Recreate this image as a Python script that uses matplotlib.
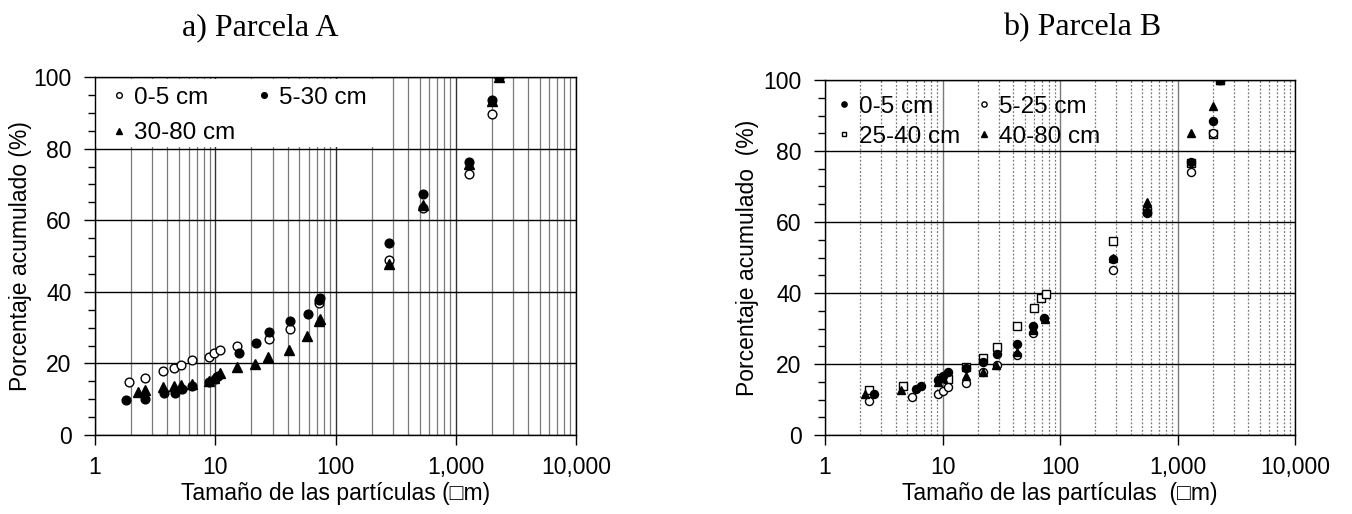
import numpy as np
import matplotlib
matplotlib.use("Agg")
import matplotlib.pyplot as plt
from matplotlib.ticker import FuncFormatter, LogLocator, MultipleLocator
from matplotlib.patches import Rectangle

plt.rcParams['font.family'] = ['Liberation Sans', 'DejaVu Sans']

# Parcela A
a_x_05 = [1.9, 2.6, 3.7, 4.5, 5.2, 6.4, 8.9, 9.8, 11, 15.3, 28, 41.5, 72.5, 280, 532, 1285, 2000, 2290]
a_y_05 = [14.7, 15.8, 17.8, 18.8, 19.6, 20.9, 21.8, 22.8, 23.8, 24.8, 26.7, 29.7, 36.8, 48.8, 63.3, 72.8, 89.7, 100]
a_x_530 = [1.8, 2.6, 3.75, 4.6, 5.25, 6.45, 8.9, 10, 10.6, 15.7, 21.7, 28.2, 42, 58.5, 73, 75, 280, 532, 1285, 2000, 2290]
a_y_530 = [9.8, 10.1, 11.6, 11.6, 12.8, 13.8, 14.7, 15.6, 16.5, 22.8, 25.7, 28.8, 31.8, 33.8, 37.6, 38.3, 53.7, 67.3, 76.2, 93.6, 100]
a_x_3080 = [2.3, 2.6, 3.7, 4.5, 5.2, 6.4, 8.9, 9.8, 11, 15.3, 21.6, 27.7, 41, 58, 72.5, 75, 280, 532, 1285, 2000, 2290]
a_y_3080 = [12.1, 12.6, 13.5, 13.7, 14.0, 14.2, 15.0, 15.9, 17.2, 18.9, 19.7, 21.9, 23.7, 27.7, 31.9, 32.5, 47.8, 64.2, 75.8, 93.4, 100]

# Parcela B
b_x_05 = [2.6, 5.95, 6.5, 9.2, 10, 11.2, 15.9, 22.2, 28.9, 42.8, 59.3, 73.5, 281, 547, 1300, 2020, 2300]
b_y_05 = [11.5, 12.9, 13.7, 15.5, 16.5, 17.7, 18.8, 20.7, 22.7, 25.6, 30.7, 32.9, 49.5, 62.9, 76.8, 88.5, 100]
b_x_525 = [2.35, 5.5, 9.2, 10, 11.2, 15.9, 22.2, 28.9, 42.8, 59.3, 281, 547, 1300, 2020, 2300]
b_y_525 = [9.7, 10.7, 11.5, 12.5, 13.6, 14.6, 17.7, 19.7, 22.5, 28.6, 46.5, 62.5, 74.2, 85, 100]
b_x_2540 = [2.35, 4.6, 9.7, 11.2, 15.9, 22.2, 28.9, 42.8, 60.4, 68.5, 75.6, 281, 547, 1300, 2020, 2300]
b_y_2540 = [12.7, 13.8, 16.0, 15.8, 19.1, 21.8, 24.7, 30.7, 35.7, 38.7, 39.6, 54.7, 63, 76.5, 84.8, 100]
b_x_4080 = [2.2, 4.4, 9.2, 10, 15.9, 22, 28.5, 42.8, 59.3, 74, 281, 547, 1300, 2020, 2300]
b_y_4080 = [11.5, 12.7, 15.0, 16.0, 16.5, 17.7, 19.7, 23.5, 29.7, 32.8, 49.8, 65.7, 85.2, 92.7, 100]

fs = 16.5

fig = plt.figure(figsize=(13.52, 5.14), dpi=100)
ax1 = fig.add_axes([95/1352, 79/514, 481/1352, 358/514])
ax2 = fig.add_axes([825/1352, 79/514, 470/1352, 355/514])


def style_axes(ax, minor_ls, minor_col, major_col):
    ax.set_xscale('log')
    ax.set_xlim(1, 10000)
    ax.set_ylim(0, 100)
    ax.xaxis.set_major_locator(LogLocator(base=10, numticks=10))
    ax.xaxis.set_minor_locator(LogLocator(base=10, subs=np.arange(2, 10), numticks=20))
    ax.xaxis.set_major_formatter(FuncFormatter(lambda v, p: f"{v:,.0f}"))
    ax.yaxis.set_major_locator(MultipleLocator(20))
    ax.yaxis.set_minor_locator(MultipleLocator(5))
    ax.tick_params(axis='x', which='major', length=7, width=1, pad=8, labelsize=fs)
    ax.tick_params(axis='x', which='minor', length=0)
    ax.tick_params(axis='y', which='major', length=8, width=1, pad=9, labelsize=fs)
    ax.tick_params(axis='y', which='minor', length=5, width=1)
    ax.grid(True, which='minor', axis='x', color=minor_col, ls=minor_ls, lw=0.9)
    ax.grid(True, which='major', axis='x', color=major_col, ls='-', lw=1)
    ax.grid(True, which='major', axis='y', color='black', ls='-', lw=1)
    for s in ax.spines.values():
        s.set_color('black')
        s.set_linewidth(1)
        s.set_zorder(4)


style_axes(ax1, '-', '#7a7a7a', '#333333')
style_axes(ax2, (0, (1.5, 1.5)), '#7a7a7a', '#7a7a7a')

ms = 6.3
kw = dict(ls='none', mec='black', mew=1, zorder=3)
ax1.plot(a_x_05, a_y_05, marker='o', mfc='white', ms=ms, label='0-5 cm', **kw)
ax1.plot(a_x_530, a_y_530, marker='o', mfc='black', ms=ms, label='5-30 cm', **kw)
ax1.plot(a_x_3080, a_y_3080, marker='^', mfc='black', ms=ms + 0.5, label='30-80 cm', **kw)

ms2 = 5.8
ax2.plot(b_x_2540, b_y_2540, marker='s', mfc='white', ms=ms2 - 0.5, label='25-40 cm', **kw)
ax2.plot(b_x_525, b_y_525, marker='o', mfc='white', ms=ms2, label='5-25 cm', **kw)
ax2.plot(b_x_05, b_y_05, marker='o', mfc='black', ms=ms2, label='0-5 cm', **kw)
ax2.plot(b_x_4080, b_y_4080, marker='^', mfc='black', ms=ms2, label='40-80 cm', **kw)

# white box behind legend of Parcela A
ax1.add_patch(Rectangle((0, 0.805), 0.613, 0.19, transform=ax1.transAxes,
                        facecolor='white', edgecolor='none', zorder=1.8))

h1, l1 = ax1.get_legend_handles_labels()
order1 = [0, 2, 1]
ax1.legend([h1[i] for i in order1], [l1[i] for i in order1], ncol=2, loc='upper left',
           bbox_to_anchor=(0.035, 0.973), frameon=False, fontsize=17.5, markerscale=0.65,
           handlelength=0.6, handletextpad=0.3, columnspacing=0.9, labelspacing=0.56,
           borderaxespad=0, borderpad=0)

h2, l2 = ax2.get_legend_handles_labels()
lab = dict(zip(l2, h2))
order2 = ['0-5 cm', '25-40 cm', '5-25 cm', '40-80 cm']
ax2.legend([lab[k] for k in order2], order2, ncol=2, loc='upper left',
           bbox_to_anchor=(0.025, 0.955), frameon=False, fontsize=17.5, markerscale=0.65,
           handlelength=0.6, handletextpad=0.3, columnspacing=0.7, labelspacing=0.31,
           borderaxespad=0, borderpad=0)

ax1.set_xlabel('Tamaño de las partículas (\u25a1m)', fontsize=fs, labelpad=2)
ax2.set_xlabel('Tamaño de las partículas  (\u25a1m)', fontsize=fs, labelpad=2)
ax1.set_ylabel('Porcentaje acumulado (%)', fontsize=fs)
ax2.set_ylabel('Porcentaje acumulado  (%)', fontsize=fs)
ax1.yaxis.set_label_coords(-0.131, 0.5)
ax2.yaxis.set_label_coords(-0.14, 0.5)

fig.text(260/1352, 1 - 35/514, 'a) Parcela A', family=['Liberation Serif', 'DejaVu Serif'],
         fontsize=23, ha='center', va='baseline')
fig.text(1082/1352, 1 - 35/514, 'b) Parcela B', family=['Liberation Serif', 'DejaVu Serif'],
         fontsize=23, ha='center', va='baseline')

fig.savefig('out.png', dpi=100)
